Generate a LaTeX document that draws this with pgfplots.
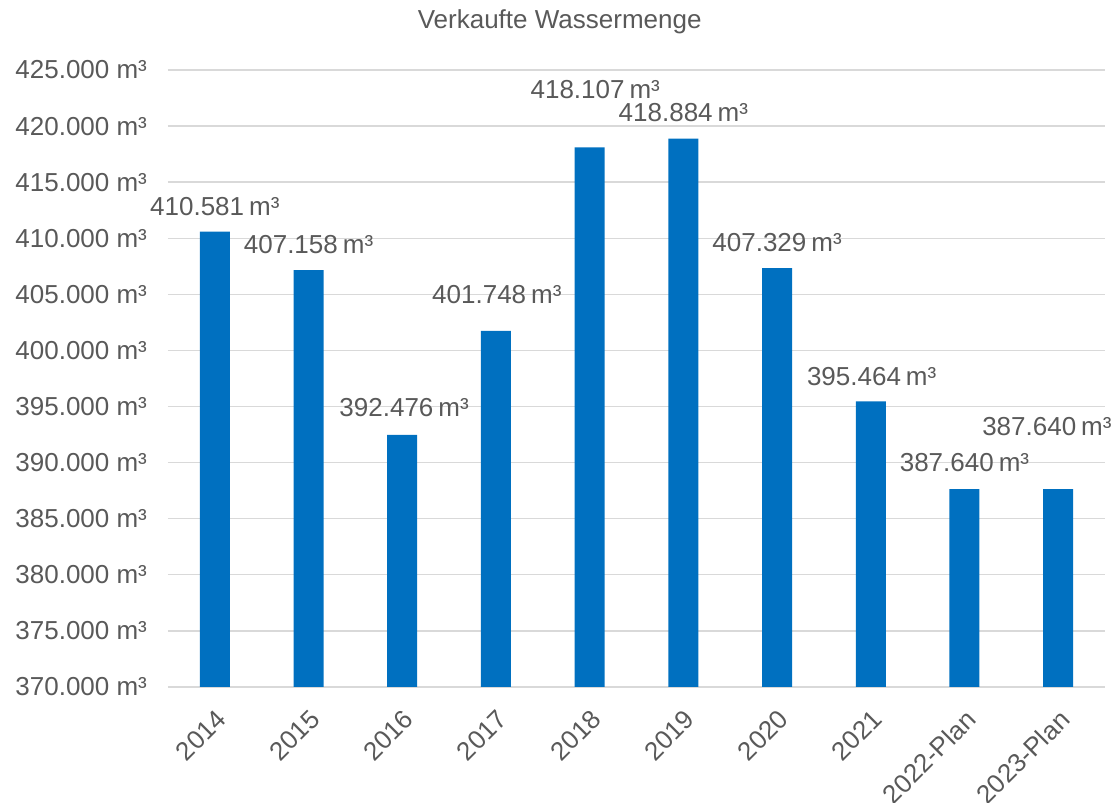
\documentclass[border=0pt]{standalone}
\usepackage{pgfplots}
\pgfplotsset{compat=1.18}
\usepackage{fontspec}
\setmainfont{Liberation Sans}
\definecolor{barblue}{HTML}{0070C0}
\definecolor{txt}{HTML}{595959}
\definecolor{gridc}{HTML}{D9D9D9}
\begin{document}
\begin{tikzpicture}
\begin{axis}[
  name=ax,
  width=468.5pt, height=308.5pt, scale only axis,
  xmin=-0.5, xmax=9.5, ymin=370000, ymax=425000,
  ytick={370000,375000,...,425000},
  scaled y ticks=false,
  xtick={0,...,9},
  xticklabels={2014,2015,2016,2017,2018,2019,2020,2021,2022-Plan,2023-Plan},
  axis x line*=bottom, axis y line*=left,
  y axis line style={draw=none},
  x axis line style={draw=gridc, line width=0.9pt},
  ymajorgrids, grid style={draw=gridc, line width=0.7pt},
  major tick length=0pt,
  tick style={draw=none},
  yticklabel={\pgfmathprintnumber[fixed,1000 sep={.},assume math mode=true]{\tick} m³},
  ticklabel style={font=\fontsize{13}{15}\selectfont, text=txt},
  yticklabel style={anchor=east, xshift=-7pt},
  xticklabel style={rotate=45, anchor=north east, yshift=-4pt, xshift=-4pt},
  clip=false,
]
\addplot[ybar, bar width=15pt, fill=barblue, draw=none] coordinates {
(0,410581) (1,407158) (2,392476) (3,401748) (4,418107)
(5,418884) (6,407329) (7,395464) (8,387640) (9,387640)
};
\addplot[draw=none, mark=none, point meta=explicit symbolic,
  nodes near coords, nodes near coords style={anchor=center, inner sep=0pt, font=\fontsize{13}{15}\selectfont, text=txt}]
coordinates {
(0,412787)[410.581\kern2.5pt m³]
(1,409400)[407.158\kern2.5pt m³]
(2.02,394870)[392.476\kern2.5pt m³]
(3.01,404943)[401.748\kern2.5pt m³]
(4.06,423217)[418.107\kern2.5pt m³]
(5,421166)[418.884\kern2.5pt m³]
(6,409578)[407.329\kern2.5pt m³]
(7.01,397633)[395.464\kern2.5pt m³]
(8,389968)[387.640\kern2.5pt m³]
(8.88,393176)[387.640\kern2.5pt m³]
};
\node[font=\fontsize{13}{15}\selectfont, text=txt] at (rel axis cs:0.418,1) [yshift=24pt] {Verkaufte Wassermenge};
\end{axis}
\pgfresetboundingbox
\path ([xshift=-84pt, yshift=-58pt]ax.south west) rectangle ([xshift=3pt, yshift=35pt]ax.north east);
\end{tikzpicture}
\end{document}
